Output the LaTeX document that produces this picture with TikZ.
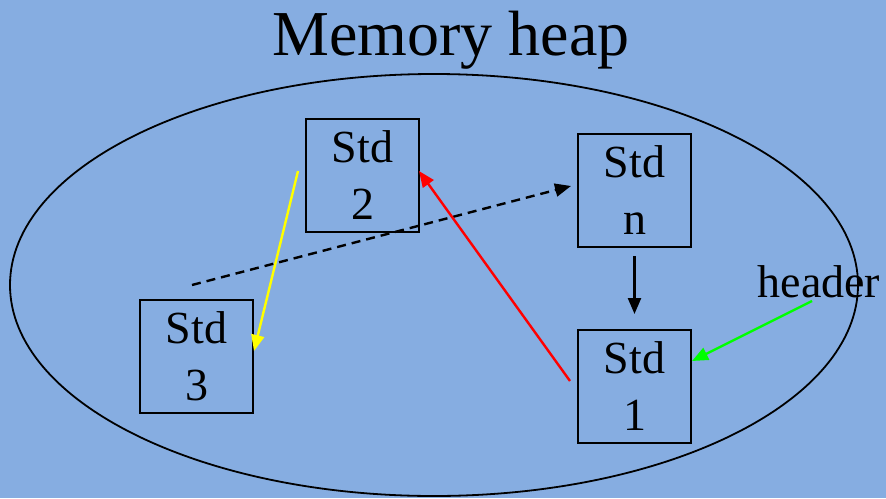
\documentclass[tikz,border=0pt]{standalone}
\usepackage{fontspec}
\setmainfont{Liberation Serif}
\newfontfamily\tms{Liberation Serif}
\usetikzlibrary{arrows.meta}
\definecolor{bg}{RGB}{134,173,225}
\definecolor{ylw}{RGB}{255,255,0}
\definecolor{grn}{RGB}{0,255,0}
\definecolor{rd}{RGB}{255,0,0}
\begin{document}
\begin{tikzpicture}[x=1pt,y=-1pt,
  stdbox/.style={draw=black,line width=2pt,minimum width=113pt,minimum height=113pt,inner sep=0pt,align=center,font=\tms\fontsize{46}{57}\selectfont},
  conn/.style={line width=2.4pt,-{Triangle[length=16pt,width=13pt]}},
  lbl/.style={inner sep=0pt,anchor=base}]
\fill[bg] (0,0) rectangle (886,498);
\useasboundingbox (0,0) rectangle (886,498);
\node[lbl,font=\tms\fontsize{64}{70}\selectfont] (title) at (451,55) {Memory heap};
\draw[line width=1.8pt] (434,285) ellipse [x radius=424, y radius=211];
\node[stdbox] (s2) at (362.5,175.5) {Std\\2};
\node[stdbox] (sn) at (634.5,190.5) {Std\\n};
\node[stdbox] (s3) at (196.5,356) {Std\\3};
\node[stdbox] (s1) at (634.5,386.5) {Std\\1};
\node[lbl,font=\tms\fontsize{46}{50}\selectfont] (hdr) at (819,297) {header};
\coordinate (y0) at (298,171);
\coordinate (y1) at (254,351);
\coordinate (d0) at (192,285);
\coordinate (d1) at (571,186);
\coordinate (r0) at (570,381);
\coordinate (r1) at (419,171);
\coordinate (g0) at (812,301);
\coordinate (g1) at (692,361);
\draw[conn,ylw] (y0) -- (y1);
\draw[conn,black,dash pattern=on 9pt off 6pt] (d0) -- (d1);
\draw[conn,rd] (r0) -- (r1);
\draw[conn,black] (sn.south) ++(0,8) -- ([yshift=15pt]s1.north);
\draw[conn,grn] (g0) -- (g1);
\end{tikzpicture}
\end{document}
